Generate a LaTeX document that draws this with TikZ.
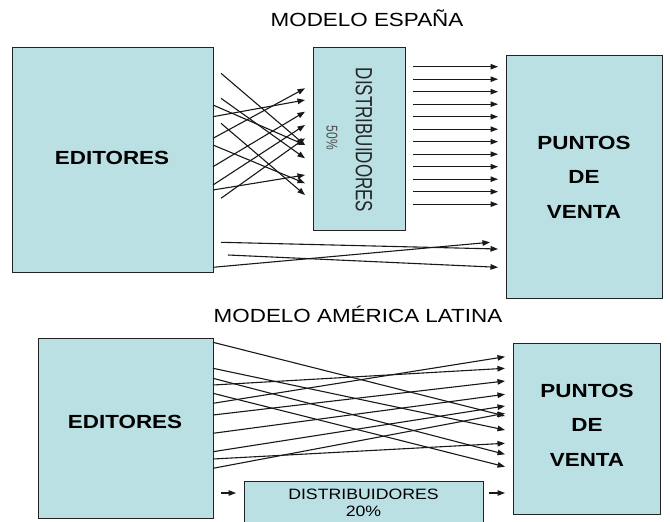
\documentclass[tikz,border=0pt]{standalone}
\usepackage{fontspec}
\setmainfont{Liberation Sans}
\usetikzlibrary{arrows.meta,calc}
\definecolor{boxfill}{RGB}{187,224,228}
\definecolor{boxline}{RGB}{35,35,35}
\newcommand\stretchx[1]{\scalebox{1.18}[1]{#1}}
\begin{document}
\begin{tikzpicture}[x=1pt,y=-1pt,
  box/.style={draw=boxline,line width=0.9pt,fill=boxfill,inner sep=0pt,outer sep=0pt,anchor=north west},
  lbl/.style={font=\bfseries\fontsize{19}{34.5}\selectfont,align=center,inner sep=0pt},
  ttl/.style={font=\fontsize{19}{22}\selectfont,inner sep=0pt,anchor=base},
  arr/.style={line width=1.1pt,draw=black!90,-{Triangle[length=7.5pt,width=5.5pt]}}
]
\clip (0,0) rectangle (670,522);
\fill[white] (0,0) rectangle (670,522);

% ---------- MODELO ESPAÑA ----------
\node[ttl] (t1) at (367,27) {\stretchx{MODELO ESPAÑA}};
\node[box,minimum width=201pt,minimum height=225pt] (ed1) at (12,47) {};
\node[lbl] (ed1t) at (112,158) {\stretchx{EDITORES}};
\node[box,minimum width=92pt,minimum height=183pt] (di1) at (313,47) {};
\node[font=\fontsize{17}{20}\selectfont,rotate=-90,inner sep=0pt,text=black!85] (di1t) at (364,140) {\scalebox{1}[1.38]{DISTRIBUIDORES}};
\node[font=\fontsize{12}{14}\selectfont,rotate=-90,text=black!70,inner sep=0pt] (di1p) at (332,138) {\scalebox{1}[1.3]{50\%}};
\node[box,minimum width=156pt,minimum height=243pt] (pv1) at (506,55) {};
\node[lbl] (pv1t) at (584,177) {\stretchx{PUNTOS}\\\stretchx{DE}\\\stretchx{VENTA}};

% editores -> distribuidores (crossing)
\foreach \a/\b/\c in {8/26.3/98, 8/51.3/111.3, 0/58/98, 0/69.7/53, 8/76.3/148, 0/91.3/41.3,
  0/98/136.3, 0/119.7/64.7, 0/138/78, 0/143/128, 8/151.3/91.3}
  \draw[arr] ($(ed1.north east)+(\a,\b)$) -- ($(di1.north west)+(-8,\c)$);
% distribuidores -> puntos de venta
\foreach \i in {0,...,11}
  \draw[arr] ($(di1.north east)+(8,19.7+12.5*\i)$) -- ($(pv1.north west)+(-8,11.7+12.5*\i)$);
% editores -> puntos de venta (direct)
\draw[arr] ($(ed1.north east)+(8,195.3)$) -- ($(pv1.north west)+(-8,194)$);
\draw[arr] ($(ed1.north east)+(0,220.3)$) -- ($(pv1.north west)+(-16,187.3)$);
\draw[arr] ($(ed1.north east)+(15,208)$) -- ($(pv1.north west)+(-8,212.3)$);

% ---------- MODELO AMÉRICA LATINA ----------
\node[ttl] (t2) at (358,322) {\stretchx{MODELO AMÉRICA LATINA}};
\node[box,minimum width=175pt,minimum height=180pt] (ed2) at (38,338) {};
\node[lbl] (ed2t) at (125,422) {\stretchx{EDITORES}};
\node[box,minimum width=147pt,minimum height=171pt] (pv2) at (513,343) {};
\node[lbl] (pv2t) at (587,425) {\stretchx{PUNTOS}\\\stretchx{DE}\\\stretchx{VENTA}};
\node[box,minimum width=239pt,minimum height=60pt] (di2) at (244,481) {};
\node[font=\fontsize{15}{17.5}\selectfont,align=center,inner sep=0pt] (di2t) at (363.5,502.8) {\stretchx{DISTRIBUIDORES}\\\stretchx{20\%}};

\foreach \b/\c in {4.3/73, 30.3/87, 40.3/111.3, 47/25.3, 55.3/123.7, 65.3/13.7,
  77/38, 95.3/51.3, 113.7/63, 121/100.3, 130.3/70.3}
  \draw[arr] ($(ed2.north east)+(0,\b)$) -- ($(pv2.north west)+(-8,\c)$);
\draw[arr] ($(ed2.north east)+(8,155)$) -- ($(di2.north west)+(-8,12)$);
\draw[arr] ($(di2.north east)+(6,12)$) -- ($(pv2.north west)+(-8,150)$);
\end{tikzpicture}
\end{document}
